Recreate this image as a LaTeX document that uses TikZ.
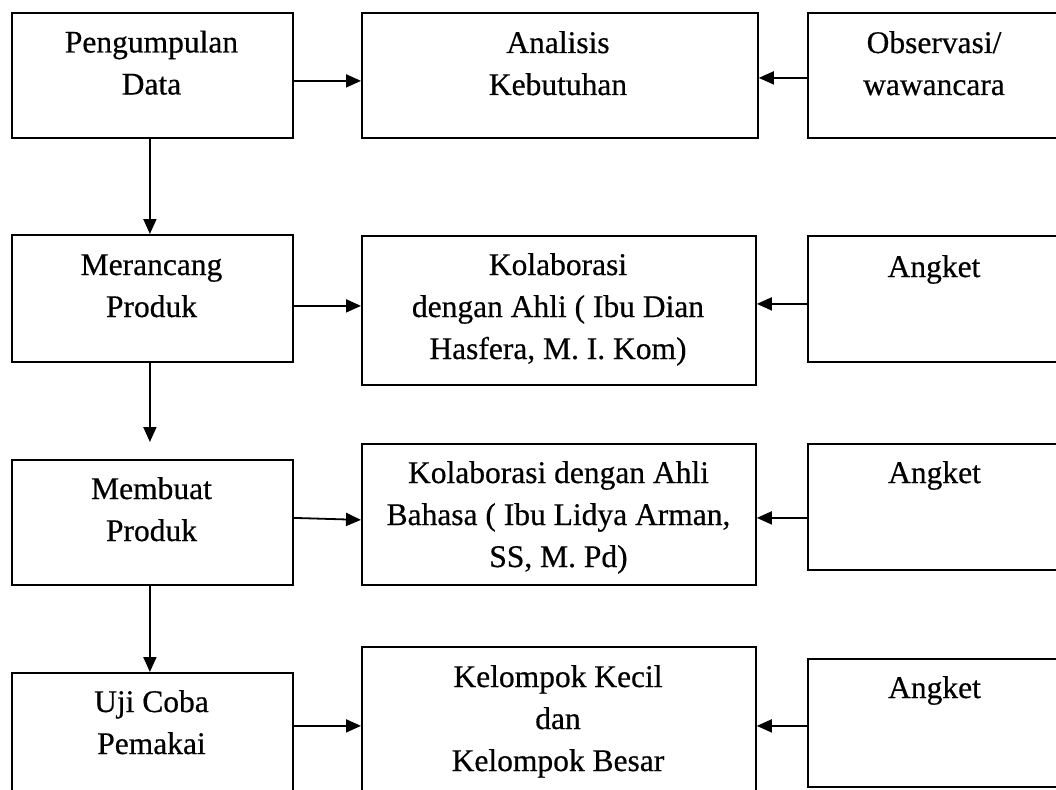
\documentclass[tikz,border=0pt]{standalone}
\usepackage{fontspec}
\setmainfont{Liberation Serif}
\newfontfamily\boxfont[BoldFont={Liberation Serif}, BoldFeatures={FakeBold=0.5}]{Liberation Serif}
\usetikzlibrary{arrows.meta,calc}
\begin{document}
\begin{tikzpicture}[x=1pt,y=-1pt,
  box/.style={draw, line width=1.8pt, inner sep=0pt, anchor=north west},
  lbl/.style={anchor=base, align=flush center, inner sep=0pt,
    font=\boxfont\bfseries\fontsize{31.5}{42}\selectfont},
  lblL/.style={lbl, text width=280pt},
  lblM/.style={lbl, text width=390pt},
  lblR/.style={lbl, text width=250pt},
  arr/.style={line width=1.8pt, -{Triangle[length=15pt,width=13pt]}}]
\useasboundingbox (0,0) rectangle (1056,789);
\fill[white] (0,0) rectangle (1056,789);
\clip (0,0) rectangle (1056,789);

% boxes
\node[box, minimum width=281pt, minimum height=125pt] (A) at (11,12) {};
\node[box, minimum width=396pt, minimum height=125pt] (B) at (361,12) {};
\node[box, minimum width=260pt, minimum height=125pt] (C) at (807,12) {};
\node[box, minimum width=281pt, minimum height=127pt] (D) at (11,234) {};
\node[box, minimum width=394pt, minimum height=149pt] (E) at (361,235) {};
\node[box, minimum width=260pt, minimum height=126pt] (F) at (807,235) {};
\node[box, minimum width=281pt, minimum height=125pt] (G) at (11,459) {};
\node[box, minimum width=394pt, minimum height=141pt] (H) at (361,443) {};
\node[box, minimum width=260pt, minimum height=126pt] (I) at (807,443) {};
\node[box, minimum width=281pt, minimum height=150pt] (J) at (11,672) {};
\node[box, minimum width=394pt, minimum height=180pt] (K) at (361,646) {};
\node[box, minimum width=260pt, minimum height=128pt] (L) at (807,658) {};

% labels
\node[lblL] (At) at (151.5,52.5) {Pengumpulan\\Data};
\node[lblM] (Bt) at (558,53) {Analisis\\Kebutuhan};
\node[lblR] (Ct) at (934,53) {Observasi/\\wawancara};
\node[lblL] (Dt) at (151.5,275) {Merancang\\Produk};
\node[lblM] (Et) at (558,275) {Kolaborasi\\dengan Ahli ( Ibu Dian\\Hasfera, M. I. Kom)};
\node[lblR] (Ft) at (934,277) {Angket};
\node[lblL] (Gt) at (151.5,499) {Membuat\\Produk};
\node[lblM] (Ht) at (558.5,483) {Kolaborasi dengan Ahli\\Bahasa ( Ibu Lidya Arman,\\SS, M. Pd)};
\node[lblR] (It) at (934.5,483) {Angket};
\node[lblL] (Jt) at (151.5,712) {Uji Coba\\Pemakai};
\node[lblM] (Kt) at (558,687) {Kelompok Kecil\\dan\\Kelompok Besar};
\node[lblR] (Lt) at (934.5,698) {Angket};

% connectors
\draw[arr] ([yshift=-5.5pt]A.east) -- ([yshift=-5.5pt]B.west);
\draw[arr] ([yshift=-2.5pt]C.west) -- ([yshift=-2.5pt]B.east);
\draw[arr] ([xshift=-2.5pt]A.south) -- ([xshift=-2.5pt]D.north);
\draw[arr] ([yshift=-7.5pt]D.east) -- ([yshift=4.5pt]E.west);
\draw[arr] ([yshift=-5pt]F.west) -- ([yshift=6.5pt]E.east);
\draw[arr] ([xshift=-2.5pt]D.south) -- ([xshift=-2.5pt,yshift=17pt]G.north);
\draw[arr] ([yshift=4.5pt]G.east) -- ([yshift=-5.5pt]H.west);
\draw[arr] ([yshift=-11pt]I.west) -- ([yshift=-3.5pt]H.east);
\draw[arr] ([xshift=-2.5pt,yshift=2pt]G.south) -- ([xshift=-2.5pt]J.north);
\draw[arr] ([yshift=22pt]J.east) -- ([yshift=11pt]K.west);
\draw[arr] ([yshift=-3pt]L.west) -- ([yshift=11pt]K.east);
\end{tikzpicture}
\end{document}
